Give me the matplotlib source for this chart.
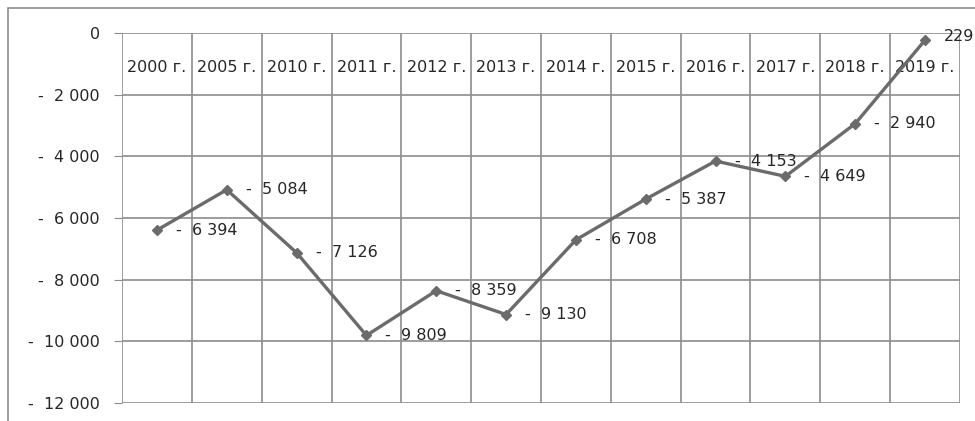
import matplotlib
matplotlib.use("Agg")
import matplotlib.pyplot as plt
from matplotlib.patches import Rectangle

years = ["2000 г.", "2005 г.", "2010 г.", "2011 г.", "2012 г.", "2013 г.",
         "2014 г.", "2015 г.", "2016 г.", "2017 г.", "2018 г.", "2019 г."]
values = [-6394, -5084, -7126, -9809, -8359, -9130,
          -6708, -5387, -4153, -4649, -2940, -229]
y_ticks = [0, -2000, -4000, -6000, -8000, -10000, -12000]

plt.rcParams["font.family"] = ["DejaVu Sans"]

def fmt(v):
    if v == 0:
        return "0"
    return "-  " + f"{abs(v):,}".replace(",", " ")

fig = plt.figure(figsize=(9.75, 4.21), dpi=100)
ax = fig.add_axes([122 / 975, 1 - 403 / 421, 838 / 975, 370 / 421])

grid_c = "#8c8c8c"
txt_c = "#262626"
x = list(range(len(years)))
ax.set_xlim(-0.5, len(years) - 0.5)
ax.set_ylim(-12000, 0)

# сетка
for i in range(len(years) + 1):
    ax.axvline(i - 0.5, color=grid_c, lw=1.2, zorder=1)
for t in y_ticks:
    ax.axhline(t, color=grid_c, lw=1.2, zorder=1)

ax.plot(x, values, color="#6b6b6b", lw=2.4, marker="D", markersize=5.5,
        zorder=3)

for xi, v in zip(x, values):
    if v == -229:
        # у последней точки видно только число
        ax.annotate("229", (xi, v), xytext=(19, 4), textcoords="offset pixels",
                    va="center", ha="left", fontsize=11.5, color=txt_c, zorder=4)
    else:
        ax.annotate(fmt(v), (xi, v), xytext=(19, 0), textcoords="offset pixels",
                    va="center", ha="left", fontsize=11.5, color=txt_c, zorder=4)

# подписи категорий сверху внутри графика
for xi, yr in zip(x, years):
    ax.text(xi, -1260, yr, ha="center", va="baseline", fontsize=11.5,
            color=txt_c, zorder=2)

ax.set_xticks([])
ax.set_yticks(y_ticks)
ax.set_yticklabels([fmt(t) for t in y_ticks], fontsize=11.5, color=txt_c)
ax.tick_params(axis="y", length=6, color=grid_c, pad=10)
for s in ax.spines.values():
    s.set_visible(False)

# рамка диаграммы
fig.patches.append(Rectangle((8 / 975, -0.05), 1.2, 1 - 8 / 421 + 0.05,
                             transform=fig.transFigure, fill=False,
                             edgecolor="#8c8c8c", lw=1.2))

fig.savefig("out.png", dpi=100)
